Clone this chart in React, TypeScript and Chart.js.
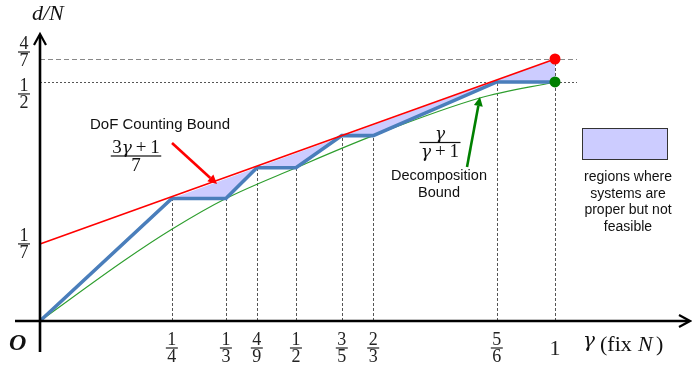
import React, { useEffect, useRef } from "react";
import { Chart, registerables } from "chart.js";

Chart.register(...registerables);

// ---------- data (schematic units as drawn: γ axis 0..1, d/N axis 0..4/7) ----------
const xTickNum = ["1", "1", "4", "1", "3", "2", "5"];
const xTickDen = ["4", "3", "9", "2", "5", "3", "6"];
const xTickPos = [0.256, 0.361, 0.421, 0.497, 0.586, 0.647, 0.887];
const gammaEnd = 1;

const yTickNum = ["1", "1", "4"];
const yTickDen = ["7", "2", "7"];
const yTickPos = [0.168, 0.521, 0.571];
const yTickShift = [0, 12, -7];

// achievable DoF (blue, piecewise linear)
const achievableX = [0, ...xTickPos, gammaEnd];
const achievableY = [0, 0.267, 0.267, 0.334, 0.334, 0.404, 0.404, 0.521, 0.521];

// DoF counting bound (3γ+1)/7 (red)
const dofBoundX = [0, gammaEnd];
const dofBoundY = [0.168, 0.571];

// decomposition bound γ/(γ+1) (green)
const decompX = [0, 0.165, 0.256, 0.361, 0.497, 0.647, 0.854, 1];
const decompY = [0, 0.133, 0.2, 0.267, 0.334, 0.404, 0.486, 0.521];

const legendLines = ["regions where", "systems are", "proper but not", "feasible"];

// ---------- helpers ----------
const SERIF = '"Liberation Serif", "DejaVu Serif", serif';
const GREEK = '"DejaVu Serif", serif';
const SANS = '"Liberation Sans", Arial, sans-serif';
type Run = { t: string; it?: boolean; g?: boolean };

const pts = (xs: number[], ys: number[]) => xs.map((x, i) => ({ x, y: ys[i] }));

function setFont(ctx: CanvasRenderingContext2D, r: Run, size: number) {
  if (r.g) ctx.font = `italic ${Math.round(size * 0.9)}px ${GREEK}`;
  else ctx.font = `${r.it ? "italic " : ""}${size}px ${SERIF}`;
}
function runsWidth(ctx: CanvasRenderingContext2D, runs: Run[], size: number) {
  let w = 0;
  for (const r of runs) {
    setFont(ctx, r, size);
    w += ctx.measureText(r.t).width;
  }
  return w;
}
function drawRuns(ctx: CanvasRenderingContext2D, runs: Run[], cx: number, base: number, size: number) {
  let x = cx - runsWidth(ctx, runs, size) / 2;
  ctx.textAlign = "left";
  ctx.textBaseline = "alphabetic";
  for (const r of runs) {
    setFont(ctx, r, size);
    ctx.fillText(r.t, x, base);
    x += ctx.measureText(r.t).width;
  }
}
function drawFrac(
  ctx: CanvasRenderingContext2D,
  num: Run[],
  den: Run[],
  cx: number,
  barY: number,
  size: number,
  pad = 3
) {
  const w = Math.max(runsWidth(ctx, num, size), runsWidth(ctx, den, size)) + pad;
  drawRuns(ctx, num, cx, barY - size * 0.17, size);
  drawRuns(ctx, den, cx, barY + size * 0.78, size);
  ctx.fillRect(cx - w / 2, barY - 0.6, w, 1.2);
}
function arrow(ctx: CanvasRenderingContext2D, x1: number, y1: number, x2: number, y2: number, color: string, lw: number) {
  const a = Math.atan2(y2 - y1, x2 - x1);
  const hl = 9, hw = 4.5;
  const bx = x2 - hl * Math.cos(a), by = y2 - hl * Math.sin(a);
  ctx.strokeStyle = color;
  ctx.fillStyle = color;
  ctx.lineWidth = lw;
  ctx.setLineDash([]);
  ctx.beginPath();
  ctx.moveTo(x1, y1);
  ctx.lineTo(bx, by);
  ctx.stroke();
  ctx.beginPath();
  ctx.moveTo(x2, y2);
  ctx.lineTo(bx + hw * Math.sin(a), by - hw * Math.cos(a));
  ctx.lineTo(bx - hw * Math.sin(a), by + hw * Math.cos(a));
  ctx.closePath();
  ctx.fill();
}

const overlay = {
  id: "overlay",
  beforeDatasetsDraw(chart: any) {
    const { ctx } = chart;
    const xs = chart.scales.x, ys = chart.scales.y;
    const y0 = ys.getPixelForValue(0);
    ctx.save();
    ctx.lineWidth = 1;
    // vertical guides
    ctx.strokeStyle = "#555";
    ctx.setLineDash([3, 2]);
    const gx = [...xTickPos, gammaEnd];
    const gt = [...xTickPos.map((_, i) => achievableY[i + 1]), dofBoundY[1]];
    gx.forEach((v, i) => {
      const px = Math.round(xs.getPixelForValue(v)) + 0.5;
      ctx.beginPath();
      ctx.moveTo(px, y0);
      ctx.lineTo(px, ys.getPixelForValue(gt[i]));
      ctx.stroke();
    });
    // horizontal guides
    const xL = xs.getPixelForValue(0);
    const xR = xs.getPixelForValue(gammaEnd) + 22;
    const hy1 = Math.round(ys.getPixelForValue(yTickPos[2])) + 0.5;
    ctx.strokeStyle = "#888";
    ctx.setLineDash([5, 3]);
    ctx.beginPath();
    ctx.moveTo(xL, hy1);
    ctx.lineTo(xR, hy1);
    ctx.stroke();
    const hy2 = Math.round(ys.getPixelForValue(yTickPos[1])) + 0.5;
    ctx.strokeStyle = "#555";
    ctx.setLineDash([2, 2]);
    ctx.beginPath();
    ctx.moveTo(xL, hy2);
    ctx.lineTo(xR, hy2);
    ctx.stroke();
    ctx.restore();
  },
  afterDatasetsDraw(chart: any) {
    const { ctx } = chart;
    const xs = chart.scales.x, ys = chart.scales.y;
    const ox = xs.getPixelForValue(0), oy = ys.getPixelForValue(0);
    ctx.save();
    ctx.setLineDash([]);
    ctx.strokeStyle = "#000";
    ctx.lineWidth = 2.6;
    ctx.lineCap = "butt";
    // x axis
    ctx.beginPath();
    ctx.moveTo(15, oy);
    ctx.lineTo(689, oy);
    ctx.stroke();
    ctx.lineWidth = 2.2;
    ctx.beginPath();
    ctx.moveTo(679, oy - 6);
    ctx.lineTo(690, oy);
    ctx.lineTo(679, oy + 6);
    ctx.stroke();
    // y axis
    ctx.lineWidth = 2.6;
    ctx.beginPath();
    ctx.moveTo(ox, 352);
    ctx.lineTo(ox, 35);
    ctx.stroke();
    ctx.lineWidth = 2.2;
    ctx.beginPath();
    ctx.moveTo(ox - 6, 45);
    ctx.lineTo(ox, 34);
    ctx.lineTo(ox + 6, 45);
    ctx.stroke();
    ctx.restore();
  },
  afterDraw(chart: any) {
    const { ctx } = chart;
    const xs = chart.scales.x, ys = chart.scales.y;
    const oy = ys.getPixelForValue(0);
    ctx.save();
    ctx.fillStyle = "#222";
    // x tick fractions
    xTickPos.forEach((v, i) => {
      drawFrac(ctx, [{ t: xTickNum[i] }], [{ t: xTickDen[i] }], xs.getPixelForValue(v), oy + 27, 18);
    });
    drawRuns(ctx, [{ t: "1" }], xs.getPixelForValue(gammaEnd), oy + 34, 22);
    // y tick fractions
    yTickPos.forEach((v, i) => {
      drawFrac(ctx, [{ t: yTickNum[i] }], [{ t: yTickDen[i] }], 24, ys.getPixelForValue(v) + yTickShift[i], 18);
    });
    // axis titles
    ctx.fillStyle = "#111";
    ctx.textAlign = "left";
    ctx.textBaseline = "alphabetic";
    ctx.font = `italic 22px ${SERIF}`;
    ctx.fillText("d/N", 32, 20);
    ctx.font = `bold italic 24px ${SERIF}`;
    ctx.fillText("O", 9, 350);
    ctx.font = `italic 20px ${GREEK}`;
    ctx.fillText("γ", 583, 347);
    ctx.font = `22px ${SERIF}`;
    ctx.fillText("(fix", 600, 351);
    ctx.font = `italic 22px ${SERIF}`;
    ctx.fillText("N", 638, 351);
    ctx.font = `22px ${SERIF}`;
    ctx.fillText(")", 656, 351);

    // DoF counting bound annotation
    ctx.fillStyle = "#111";
    ctx.font = `15px ${SANS}`;
    ctx.textAlign = "center";
    ctx.fillText("DoF Counting Bound", 160, 129);
    drawFrac(
      ctx,
      [{ t: "3" }, { t: "γ", g: true }, { t: "\u2009+\u20091" }],
      [{ t: "7" }],
      136,
      156,
      19
    );
    arrow(ctx, 172, 143, 217, 184, "#ff0000", 2.6);

    // decomposition bound annotation
    ctx.fillStyle = "#111";
    drawFrac(ctx, [{ t: "γ", g: true }], [{ t: "γ", g: true }, { t: "\u2009+\u20091" }], 440, 142.5, 19);
    ctx.font = `14.5px ${SANS}`;
    ctx.textAlign = "center";
    ctx.fillText("Decomposition", 439, 179.5);
    ctx.fillText("Bound", 439, 197);
    arrow(ctx, 467, 167, 480, 97, "#008000", 2.6);

    // legend
    ctx.fillStyle = "#ccccff";
    ctx.fillRect(582, 128, 85, 31);
    ctx.strokeStyle = "#333";
    ctx.lineWidth = 1;
    ctx.setLineDash([]);
    ctx.strokeRect(582.5, 128.5, 85, 31);
    ctx.fillStyle = "#111";
    ctx.font = `14px ${SANS}`;
    ctx.textAlign = "center";
    legendLines.forEach((s, i) => ctx.fillText(s, 628, 181 + i * 16.7));
    ctx.restore();
  },
};

export default function App() {
  const ref = useRef<HTMLCanvasElement>(null);
  useEffect(() => {
    const last = achievableY.length - 1;
    const chart = new Chart(ref.current as HTMLCanvasElement, {
      type: "line",
      data: {
        datasets: [
          {
            label: "endpoints",
            data: [
              { x: gammaEnd, y: dofBoundY[1] },
              { x: gammaEnd, y: achievableY[last] },
            ],
            showLine: false,
            pointRadius: 5.5,
            pointBackgroundColor: ["#ff0000", "#008000"],
            pointBorderWidth: 0,
            pointBorderColor: "rgba(0,0,0,0)",
            order: 0,
            clip: false,
          } as any,
          {
            label: "DoF counting bound",
            data: pts(dofBoundX, dofBoundY),
            borderColor: "#ff0000",
            borderWidth: 1.6,
            pointRadius: 0,
            order: 1,
            clip: false,
          },
          {
            label: "achievable",
            data: pts(achievableX, achievableY),
            borderColor: "#4a7ebb",
            borderWidth: 3.6,
            borderJoinStyle: "miter",
            pointRadius: 0,
            order: 2,
            clip: false,
          },
          {
            label: "decomposition bound",
            data: pts(decompX, decompY),
            borderColor: "#2e9e2e",
            borderWidth: 1.1,
            cubicInterpolationMode: "monotone",
            pointRadius: 0,
            order: 3,
            clip: false,
          },
          {
            label: "gap",
            data: [
              ...pts(achievableX.slice(1), achievableY.slice(1)),
              { x: dofBoundX[1], y: dofBoundY[1] },
            ],
            borderColor: "rgba(0,0,0,0)",
            borderWidth: 0,
            backgroundColor: "#ccccff",
            fill: "shape",
            pointRadius: 0,
            order: 4,
            clip: false,
          } as any,
        ],
      },
      options: {
        responsive: false,
        animation: false,
        devicePixelRatio: 1,
        layout: { padding: { left: 40, right: 137, top: 59, bottom: 53 } },
        scales: {
          x: { type: "linear", min: 0, max: gammaEnd, display: false },
          y: { type: "linear", min: 0, max: dofBoundY[1], display: false },
        },
        plugins: { legend: { display: false }, tooltip: { enabled: false } },
        events: [],
      },
      plugins: [overlay],
    });
    return () => chart.destroy();
  }, []);
  return (
    <div style={{ position: "fixed", left: 0, top: 0, width: 692, height: 374, background: "#fff" }}>
      <canvas ref={ref} width={692} height={374} style={{ display: "block" }} />
    </div>
  );
}
